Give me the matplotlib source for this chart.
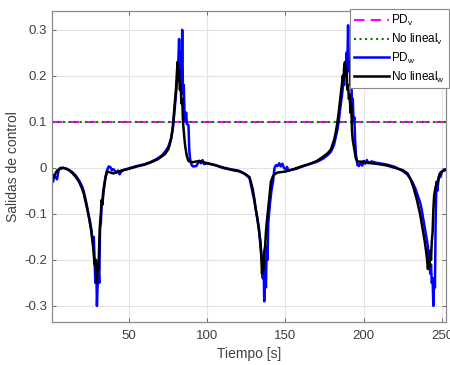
import matplotlib
matplotlib.use("Agg")
import matplotlib.pyplot as plt

plt.rcParams['font.family'] = ['Liberation Sans', 'DejaVu Sans']
plt.rcParams['mathtext.default'] = 'regular'

# reference for the linear velocity (both controllers)
t_v = [0.8, 252.6]
pd_v = [0.1, 0.1]
nl_v = [0.1, 0.1]

# angular velocity, PD controller
t_pd_w = [1, 1.5, 2, 3, 4, 5, 6, 8, 10, 12, 14, 16, 18, 20, 21, 22, 23, 24, 25, 26,
          26.5, 27, 27.5, 28, 28.5, 29, 29.5, 30, 30.5, 31, 31.5, 32, 32.5, 33, 33.5,
          34, 35, 36, 37, 38, 39, 40, 42, 43, 44, 45, 47, 50, 55, 60, 64, 68, 71, 73,
          75, 76, 77, 78, 79, 80, 80.5, 81, 81.5, 82, 82.5, 83, 83.5, 84, 84.5, 85,
          85.5, 86, 86.5, 87, 88, 88.5, 89, 90, 91, 93, 94, 95, 96, 97, 98, 100, 105,
          110, 115, 120, 124, 127, 130, 133, 134, 135, 135.5, 136, 136.4, 137, 137.5,
          138, 138.5, 139, 139.5, 140, 141, 142, 143, 144, 145, 146, 147, 148, 149,
          150, 151, 152, 154, 157, 160, 165, 170, 174, 177, 179, 181, 182, 183, 184,
          185, 186, 186.5, 187, 187.5, 188, 188.5, 189, 189.5, 190, 190.5, 191, 191.5,
          192, 192.5, 193, 193.5, 194, 194.5, 195, 196, 197, 198, 199, 200, 201, 202,
          203, 205, 208, 210, 215, 220, 225, 228, 231, 233, 235, 236, 237, 238, 239,
          240, 241, 241.5, 242, 242.5, 243, 243.5, 244, 244.5, 245, 245.5, 246, 246.5,
          247, 248, 248.5, 249, 250, 251, 252.6]
pd_w = [-0.02, -0.03, -0.015, -0.02, -0.025, -0.005, 0.0, 0.0, -0.002, -0.005, -0.01,
        -0.017, -0.027, -0.04, -0.05, -0.065, -0.08, -0.1, -0.115, -0.135,
        -0.155, -0.16, -0.15, -0.2, -0.25, -0.2, -0.3, -0.25, -0.22, -0.25, -0.13,
        -0.12, -0.08, -0.075, -0.05, -0.045, -0.02, -0.005, 0.003, 0.002, -0.005,
        -0.003, -0.01, -0.006, -0.014, -0.008, -0.004, -0.001, 0.004, 0.008, 0.013,
        0.02, 0.027, 0.035, 0.045, 0.055, 0.065, 0.085, 0.12, 0.16, 0.18, 0.2, 0.23,
        0.28, 0.2, 0.25, 0.17, 0.3, 0.16, 0.18, 0.12, 0.1, 0.12, 0.095, 0.093, 0.04,
        0.02, 0.006, 0.003, 0.004, 0.01, 0.015, 0.01, 0.017, 0.008, 0.01, 0.006,
        0.001, -0.003, -0.006, -0.013, -0.022, -0.07, -0.13, -0.17, -0.2, -0.24,
        -0.2, -0.29, -0.2, -0.26, -0.17, -0.2, -0.12, -0.1, -0.08, -0.05, -0.03,
        0.0, 0.006, 0.004, 0.01, 0.003, 0.009, 0.0, -0.003, 0.002, -0.006, -0.004,
        -0.002, 0.002, 0.008, 0.013, 0.02, 0.028, 0.035, 0.05, 0.065, 0.08, 0.1,
        0.13, 0.155, 0.17, 0.19, 0.18, 0.22, 0.2, 0.25, 0.22, 0.31, 0.21, 0.23, 0.18,
        0.2, 0.14, 0.15, 0.1, 0.11, 0.06, 0.03, 0.006, 0.004, 0.012, 0.005, 0.015,
        0.009, 0.017, 0.01, 0.014, 0.011, 0.01, 0.007, 0.002, -0.007, -0.015, -0.03,
        -0.045, -0.065, -0.075, -0.09, -0.11, -0.13, -0.15, -0.17, -0.2, -0.19,
        -0.23, -0.21, -0.25, -0.24, -0.3, -0.24, -0.26, -0.1, -0.03, -0.05, -0.02,
        -0.014, -0.02, -0.008, -0.005, -0.003]

# angular velocity, nonlinear controller
t_nl_w = [1, 2, 3, 4, 6, 8, 10, 12, 14, 16, 18, 20, 21, 22, 23, 24, 25, 26, 27, 27.5,
          28, 28.5, 29, 29.5, 30, 30.5, 31, 31.5, 32, 32.5, 33, 34, 35, 36, 38, 40,
          42, 45, 50, 55, 60, 64, 68, 71, 73, 75, 76, 77, 78, 79, 80, 80.5, 81, 81.5,
          82, 82.5, 83, 83.5, 84, 84.5, 85, 85.5, 86, 87, 88, 90, 95, 100, 105, 110,
          115, 121, 124, 127, 129, 130, 131, 132, 133, 134, 134.5, 135, 135.5, 136,
          136.5, 137, 137.5, 138, 139, 140, 140.7, 142, 143, 145, 150, 155, 160, 165,
          170, 174, 177, 179, 181, 182, 183, 184, 185, 186, 186.5, 187, 187.5, 188,
          188.5, 189, 189.5, 190, 190.5, 191, 191.5, 192, 192.5, 193, 194, 195, 196,
          200, 205, 210, 215, 220, 225, 228, 230, 232, 234, 236, 238, 239, 240, 240.5,
          241, 241.5, 242, 242.5, 243, 243.5, 244, 244.5, 245, 246, 247, 248, 249,
          250, 252.6]
nl_w = [-0.025, -0.02, -0.012, -0.006, -0.002, 0.0, -0.002, -0.006, -0.012, -0.02,
        -0.03, -0.045, -0.055, -0.07, -0.085, -0.1, -0.12, -0.14, -0.17, -0.19,
        -0.21, -0.2, -0.23, -0.25, -0.21, -0.22, -0.16, -0.12, -0.1, -0.07, -0.08,
        -0.04, -0.02, -0.008, -0.01, -0.012, -0.01, -0.006, -0.002, 0.003, 0.007,
        0.012, 0.018, 0.025, 0.03, 0.04, 0.05, 0.065, 0.09, 0.13, 0.17, 0.2, 0.23,
        0.19, 0.21, 0.17, 0.18, 0.14, 0.15, 0.1, 0.08, 0.06, 0.045, 0.025, 0.015,
        0.012, 0.015, 0.01, 0.006, 0.0, -0.004, -0.008, -0.013, -0.02, -0.045,
        -0.065, -0.09, -0.11, -0.135, -0.16, -0.19, -0.23, -0.2, -0.22, -0.18,
        -0.17, -0.14, -0.12, -0.086, -0.05, -0.03, -0.018, -0.014, -0.01, -0.008,
        -0.003, 0.003, 0.008, 0.015, 0.024, 0.032, 0.04, 0.06, 0.075, 0.095, 0.12,
        0.15, 0.18, 0.2, 0.19, 0.22, 0.23, 0.2, 0.215, 0.17, 0.18, 0.15, 0.16, 0.12,
        0.14, 0.08, 0.06, 0.04, 0.02, 0.014, 0.013, 0.01, 0.008, 0.005, 0.0, -0.005,
        -0.012, -0.025, -0.045, -0.07, -0.1, -0.14, -0.16, -0.185, -0.2, -0.22,
        -0.2, -0.215, -0.18, -0.2, -0.16, -0.14, -0.09, -0.06, -0.04, -0.035, -0.02,
        -0.01, -0.008, -0.004]

fig = plt.figure(figsize=(4.5, 3.65), dpi=100)
ax = fig.add_axes([0.1156, 0.1178, 0.8756, 0.8534])

ax.plot(t_v, pd_v, color='#ff00ff', ls='--', lw=1.5, dashes=(5, 3), label='PD$_v$')
ax.plot(t_v, nl_v, color='#008000', ls=':', lw=1.5, label='No lineal$_v$')
ax.plot(t_pd_w, pd_w, color='#0000ff', lw=1.8, label='PD$_w$')
ax.plot(t_nl_w, nl_w, color='black', lw=1.8, label='No lineal$_w$')

ax.set_xlim(0.8, 252.6)
ax.set_ylim(-0.335, 0.342)
ax.set_xticks([50, 100, 150, 200, 250])
ax.set_yticks([-0.3, -0.2, -0.1, 0, 0.1, 0.2, 0.3])
ax.set_yticklabels(['-0.3', '-0.2', '-0.1', '0', '0.1', '0.2', '0.3'])
ax.grid(True, color='#e3e3e3', lw=0.8)
ax.set_axisbelow(True)
ax.tick_params(direction='in', length=3, width=0.6, colors='#555555',
               labelsize=9.5, top=True, right=True, labelcolor='#404040')
ax.tick_params(axis='x', pad=6)
for s in ax.spines.values():
    s.set_color('#8a8a8a')
    s.set_linewidth(0.9)

ax.set_xlabel('Tiempo [s]', fontsize=10, color='#404040', labelpad=3)
ax.set_ylabel('Salidas de control', fontsize=10, color='#404040', labelpad=3)

leg = ax.legend(loc='lower right', bbox_to_anchor=(1.007, 0.751), fontsize=8.5,
                handlelength=3.0, handletextpad=0.2, borderpad=0.3,
                labelspacing=0.32, fancybox=False, framealpha=1,
                edgecolor='#8a8a8a', borderaxespad=0)
leg.get_frame().set_linewidth(0.8)

fig.savefig('out.png', dpi=100)
